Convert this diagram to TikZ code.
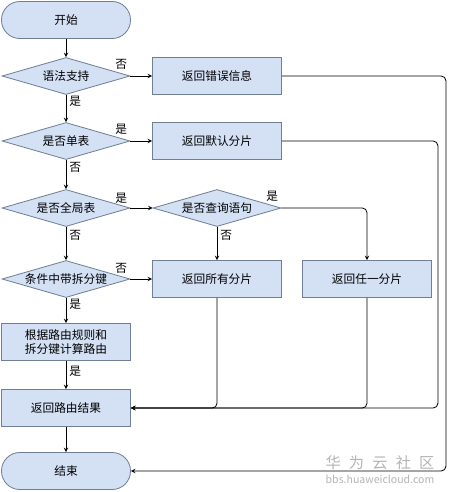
\documentclass[tikz,border=0pt]{standalone}
\usepackage{fontspec}
\setmainfont{Noto Sans CJK SC}
\usetikzlibrary{shapes.geometric}
\definecolor{boxfill}{HTML}{D4E1F5}
\definecolor{boxline}{HTML}{6F7F95}
\definecolor{markgray}{HTML}{B4B4B4}

\begin{document}
\begin{tikzpicture}[x=0.03cm, y=-0.03cm, >=stealth,
    font=\fontsize{10}{12}\selectfont,
    proc/.style={rectangle, draw=boxline, fill=boxfill, line width=0.7pt,
        minimum width=3.87cm, minimum height=1.11cm, inner sep=0pt, align=center},
    term/.style={proc, rounded corners=0.55cm},
    decision/.style={diamond, aspect=3.46, draw=boxline, fill=boxfill, line width=0.7pt,
        minimum width=3.84cm, minimum height=1.11cm, inner sep=0pt},
    flow/.style={->, line width=0.7pt},
    back/.style={flow, rounded corners=4pt},
    lbl/.style={inner sep=2.5pt}]
    \useasboundingbox (0,0) rectangle (450,492);

    % Left column
    \node[term] (start) at (66,20) {开始};
    \node[decision] (syntax) at (66,76) {语法支持};
    \node[decision] (single) at (66,141) {是否单表};
    \node[decision] (global) at (66,208) {是否全局表};
    \node[decision] (shardkey) at (66,279) {条件中带拆分键};
    \node[proc] (calc) at (66,342) {根据路由规则和\\拆分键计算路由};
    \node[proc] (result) at (66,408) {返回路由结果};
    \node[term] (finish) at (66,471) {结束};

    % Middle and right columns
    \node[proc] (error) at (217,76) {返回错误信息};
    \node[proc] (default) at (217,141) {返回默认分片};
    \node[decision] (query) at (217,208) {是否查询语句};
    \node[proc] (all) at (217,279) {返回所有分片};
    \node[proc] (any) at (367,279) {返回任一分片};

    % Main flow
    \draw[flow] (start) -- (syntax);
    \draw[flow] (syntax) -- node[lbl, near start, right] {是} (single);
    \draw[flow] (single) -- node[lbl, near start, right] {否} (global);
    \draw[flow] (global) -- node[lbl, near start, right] {否} (shardkey);
    \draw[flow] (shardkey) -- node[lbl, near start, right] {是} (calc);
    \draw[flow] (calc) -- node[lbl, pos=0.37, right] {是} (result);
    \draw[flow] (result) -- (finish);

    % Branches to the right
    \draw[flow] (syntax.east) -- node[lbl, pos=0, above left, yshift=2.5pt] {否} (error.west);
    \draw[flow] (single.east) -- node[lbl, pos=0, above left, yshift=2.5pt] {是} (default.west);
    \draw[flow] (global.east) -- node[lbl, pos=0, above left, yshift=1pt] {是} (query.west);
    \draw[flow] (shardkey.east) -- node[lbl, pos=0, above left, yshift=2pt] {否} (all.west);
    \draw[flow] (query) -- node[lbl, near start, right] {否} (all);
    \draw[back] (query.east) node[lbl, above left, yshift=2.5pt] {是} -| (any.north);

    % Returns
    \draw[back] (all.south) |- (result.east);
    \draw[back] (any.south) |- (result.east);
    \draw[back] (default.east) -- ++(156,0) |- (result.east);
    \draw[back] (error.east) -- ++(164,0) |- (finish.east);

    % Watermark
    \node[text=markgray, font=\fontsize{13}{14}\selectfont] (mark) at (380,463)
        {华\hspace{7pt}为\hspace{7pt}云\hspace{7pt}社\hspace{7pt}区};
    \node[text=markgray, font=\fontsize{9}{10}\selectfont, inner sep=0pt] (site) at (380,479)
        {bbs.huaweicloud.com};
\end{tikzpicture}
\end{document}
